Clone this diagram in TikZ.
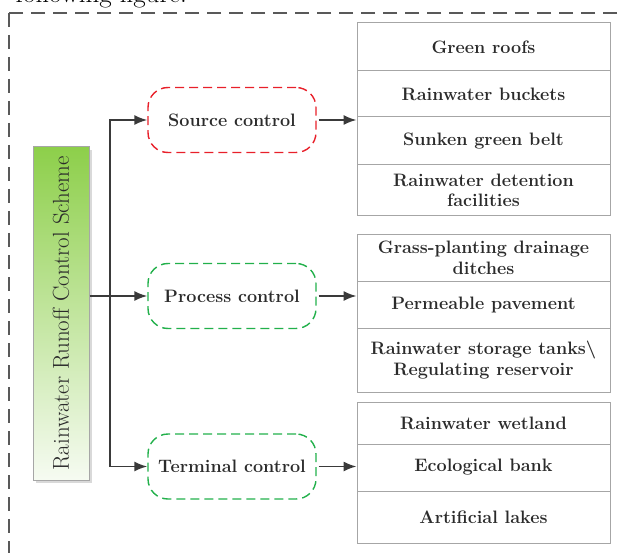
\documentclass[tikz,border=0pt]{standalone}
\usetikzlibrary{arrows.meta,shadows}

\definecolor{txtgray}{HTML}{2B2B2B}
\definecolor{linegray}{HTML}{3A3A3A}
\definecolor{boxgray}{HTML}{A6A6A6}
\definecolor{ctlred}{HTML}{E8202A}
\definecolor{ctlgreen}{HTML}{22B04B}
\definecolor{topgreen}{HTML}{8DCF4A}
\definecolor{botgreen}{HTML}{F6FBF2}

\newcommand{\itemfont}{\fontsize{18}{20.5}\selectfont\bfseries}

\tikzset{
  item/.style={draw=boxgray, line width=1pt, minimum width=253pt, inner sep=0pt,
    align=center, font=\itemfont, text=txtgray},
  control/.style={draw, dashed, dash pattern=on 9pt off 5pt, line width=1.4pt,
    rounded corners=20pt, minimum width=168pt, minimum height=65pt,
    font=\itemfont, text=txtgray},
  conn/.style={draw=linegray, line width=1.7pt},
}

\begin{document}
\begin{tikzpicture}[x=1pt, y=-1pt, >={Latex[length=13pt,width=10pt]}]
  \useasboundingbox (0,0) rectangle (623,553);
  \begin{scope}
  \clip (0,0) rectangle (623,553);
  % cut-off caption line and the dashed frame
  \node[anchor=base east, inner sep=0pt, font=\fontsize{27}{30}\selectfont] (caption) at (187,3) {following figure.};
  \draw[draw=black!65, line width=1.8pt, dash pattern=on 14pt off 8pt] (9,13) rectangle (660,590);
  \end{scope}

  % scheme box
  \node[draw=boxgray, line width=1pt, top color=topgreen, bottom color=botgreen,
    minimum width=56pt, minimum height=333pt, inner sep=0pt,
    drop shadow={shadow xshift=3pt, shadow yshift=-3pt, fill=black!15, opacity=1},
    font=\fontsize{23}{26}\selectfont, text=txtgray] (scheme) at (61,313.5)
    {\rotatebox{90}{Rainwater Runoff Control Scheme}};

  % control nodes
  \node[control, draw=ctlred] (src) at (232,120) {Source control};
  \node[control, draw=ctlgreen] (proc) at (232,296) {Process control};
  \node[control, draw=ctlgreen] (term) at (232,466.5) {Terminal control};
  \coordinate (trunk) at (110,296);

  % source measures
  \node[item, minimum height=48pt] (s1) at (483.5,47) {Green roofs};
  \node[item, minimum height=46pt] (s2) at (483.5,94) {Rainwater buckets};
  \node[item, minimum height=48pt] (s3) at (483.5,141) {Sunken green belt};
  \node[item, minimum height=51pt] (s4) at (483.5,190.5) {Rainwater detention\\facilities};

  % process measures
  \node[item, minimum height=46pt] (p1) at (483.5,258) {Grass-planting drainage\\ditches};
  \node[item, minimum height=47pt] (p2) at (483.5,304.5) {Permeable pavement};
  \node[item, minimum height=64pt] (p3) at (483.5,360) {Rainwater storage tanks\textbackslash\\Regulating reservoir};

  % terminal measures
  \node[item, minimum height=42pt] (t1) at (483.5,423) {Rainwater wetland};
  \node[item, minimum height=47pt] (t2) at (483.5,467.5) {Ecological bank};
  \node[item, minimum height=52pt] (t3) at (483.5,517) {Artificial lakes};

  % connectors
  \draw[conn, ->] (scheme.east |- proc.west) -- (proc.west);
  \draw[conn, <->] (src.west) -| (trunk) |- (term.west);
  \draw[conn, ->, shorten <=2pt] (src.east) -- (src.east -| s3.west);
  \draw[conn, ->, shorten <=2pt] (proc.east) -- (proc.east -| p2.west);
  \draw[conn, ->, shorten <=2pt] (term.east) -- (term.east -| t2.west);
\end{tikzpicture}
\end{document}
